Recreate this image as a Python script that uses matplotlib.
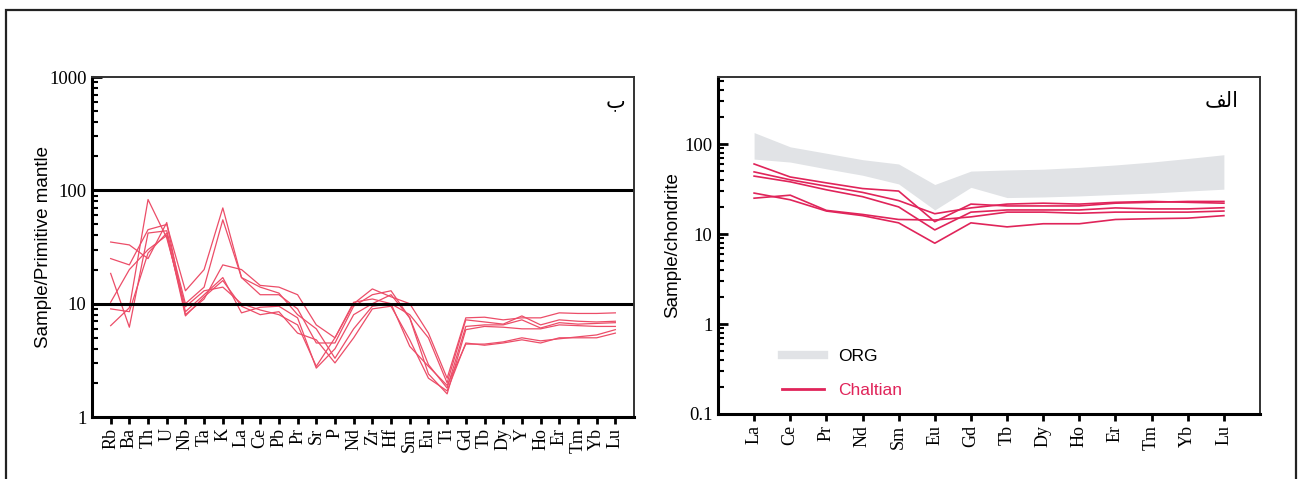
import matplotlib.pyplot as plt
import matplotlib.patches as mpatches
from matplotlib.lines import Line2D
from matplotlib.ticker import LogLocator, NullFormatter, FixedLocator, FixedFormatter
import numpy as np

# spider diagram, primitive-mantle normalised
pm_elements = ['Rb', 'Ba', 'Th', 'U', 'Nb', 'Ta', 'K', 'La', 'Ce', 'Pb', 'Pr', 'Sr', 'P', 'Nd',
               'Zr', 'Hf', 'Sm', 'Eu', 'Ti', 'Gd', 'Tb', 'Dy', 'Y', 'Ho', 'Er', 'Tm', 'Yb', 'Lu']
pm_a = [35, 33, 25, 52, 8.0, 11, 22, 20, 14.5, 14, 12, 6.5, 5, 10, 13.5, 11.5, 10, 5.5, 2.2, 7.5, 7.6, 7.2, 7.5, 7.5, 8.3, 8.2, 8.2, 8.3]
pm_b = [25, 22, 45, 50, 13, 20, 70, 17, 14, 12.4, 8, 6, 3.3, 6, 9.5, 10, 8, 5, 2.0, 7.2, 6.9, 6.6, 7.8, 6.5, 7.2, 7.0, 6.9, 7.0]
pm_c = [18.5, 6.2, 42, 44, 10, 14, 55, 17, 12, 12, 9, 4.5, 4.5, 9.5, 12, 13, 7.5, 2.9, 1.8, 6.3, 6.5, 6.5, 7.2, 6.1, 6.8, 6.6, 6.7, 6.8]
pm_d = [10.3, 20, 30, 40, 8.5, 12, 17, 8.3, 9.3, 9.5, 7.5, 2.7, 4, 8, 10, 12, 7.5, 2.4, 1.6, 5.9, 6.3, 6.2, 6.0, 6.0, 6.5, 6.4, 6.3, 6.3]
pm_e = [9, 8.5, 28, 42, 7.8, 11.5, 16, 9.5, 8, 8.5, 5.5, 4.8, 3, 5, 9, 9.5, 4.8, 2.2, 1.7, 4.5, 4.3, 4.5, 4.8, 4.5, 5.0, 5.0, 5.0, 5.5]
pm_f = [6.4, 9.2, 83, 38, 9.4, 13, 14, 10, 8.8, 8, 6.5, 2.8, 5, 10.3, 11, 10, 4.2, 2.8, 1.9, 4.4, 4.4, 4.6, 5.0, 4.7, 4.9, 5.1, 5.3, 5.9]

# REE, chondrite normalised
ree = ['La', 'Ce', 'Pr', 'Nd', 'Sm', 'Eu', 'Gd', 'Tb', 'Dy', 'Ho', 'Er', 'Tm', 'Yb', 'Lu']
org_upper = [134, 93, 79, 67, 60, 35.5, 50, 51.5, 52.5, 55, 58.5, 63, 69, 76]
org_lower = [68, 63, 53, 45, 36, 18.5, 33, 25.4, 25.8, 26.5, 27.5, 28.5, 30, 31.5]
ch_1 = [60, 43, 37, 32, 30, 13.7, 21.5, 20.5, 20.5, 20.5, 22, 22.5, 23, 23]
ch_2 = [49, 40, 34, 29, 23.5, 16.8, 19.5, 21.5, 22, 21.5, 22.5, 23, 22.5, 22]
ch_3 = [44, 38, 31, 26, 20, 11.1, 17.5, 18.5, 18.5, 18.5, 19.5, 19, 19, 19.6]
ch_4 = [28.5, 24, 18, 16, 13.3, 7.9, 13.3, 12, 13, 13, 14.5, 14.8, 15, 16]
ch_5 = [25, 27, 18.3, 16.5, 14.5, 14.3, 15.5, 17.5, 17.5, 17, 17.5, 17.5, 17.5, 18]

red_l = '#ec4d68'
red_r = '#e0245a'
grey = '#e1e3e6'
serif = 'Liberation Serif'
sans = 'Liberation Sans'


def style_axes(ax, labels, yticks):
    ax.set_yscale('log')
    x = np.arange(len(labels))
    ax.xaxis.set_major_locator(FixedLocator(x))
    ax.xaxis.set_major_formatter(FixedFormatter(labels))
    ax.yaxis.set_major_locator(FixedLocator(yticks))
    ax.yaxis.set_major_formatter(FixedFormatter([f'{v:g}' for v in yticks]))
    ax.yaxis.set_minor_locator(LogLocator(base=10, subs=np.arange(2, 10)))
    ax.yaxis.set_minor_formatter(NullFormatter())
    ax.tick_params(axis='x', direction='out', length=5, width=2, pad=3,
                   labelrotation=90, labelsize=13, labelfontfamily=serif)
    ax.tick_params(axis='y', which='major', direction='in', length=7, width=2, pad=4,
                   labelsize=13.5, labelfontfamily=serif)
    ax.tick_params(axis='y', which='minor', direction='in', length=4, width=1.5)
    for s in ['left', 'bottom']:
        ax.spines[s].set_linewidth(2.2)
    for s in ['top', 'right']:
        ax.spines[s].set_linewidth(1.4)
        ax.spines[s].set_color('#333333')


fig = plt.figure(figsize=(12.99, 4.79), dpi=100)

# left panel
ax1 = fig.add_axes([0.0708, 0.1294, 0.4173, 0.7098])
x1 = np.arange(len(pm_elements))
for s in [pm_a, pm_b, pm_c, pm_d, pm_e, pm_f]:
    ax1.plot(x1, s, color=red_l, lw=0.9)
ax1.axhline(10, color='black', lw=2.2)
ax1.axhline(100, color='black', lw=2.2)
style_axes(ax1, pm_elements, [1, 10, 100, 1000])
ax1.set_xlim(-1, 28)
ax1.set_ylim(1, 1000)
ax1.set_ylabel('Sample/Primitive mantle', fontsize=13.5, family=sans, labelpad=-2)
ax1.text(0.965, 0.93, '\u0628', transform=ax1.transAxes, ha='center', va='center',
         fontsize=15, family='DejaVu Sans')

# right panel
ax2 = fig.add_axes([0.5527, 0.1357, 0.4173, 0.7035])
x2 = np.arange(len(ree))
ax2.fill_between(x2, org_lower, org_upper, color=grey, lw=0)
for s in [ch_1, ch_2, ch_3, ch_4, ch_5]:
    ax2.plot(x2, s, color=red_r, lw=1.2)
style_axes(ax2, ree, [0.1, 1, 10, 100])
ax2.set_xlim(-1, 14)
ax2.set_ylim(0.1, 555)
ax2.set_ylabel('Sample/chondrite', fontsize=13.5, family=sans, labelpad=2)
ax2.text(0.93, 0.93, '\uFED2\uFEDF\uFE8D', transform=ax2.transAxes, ha='center', va='center',
         fontsize=15, family='DejaVu Sans')

handles = [Line2D([], [], color=grey, lw=6), Line2D([], [], color=red_r, lw=2)]
leg = ax2.legend(handles, ['ORG', 'Chaltian'], loc='lower left', bbox_to_anchor=(0.09, 0.0),
                 frameon=False, handlelength=2.4, handletextpad=0.8, labelspacing=1.1,
                 prop={'family': sans, 'size': 12.5})
leg.get_texts()[1].set_color(red_r)

# outer frame
fig.add_artist(mpatches.Rectangle((6 / 1299, -0.05), 1290 / 1299, 1.05 - 10 / 479,
                                  transform=fig.transFigure, fill=False, lw=1.6, edgecolor='#222222'))

plt.savefig('out.png', dpi=100)
